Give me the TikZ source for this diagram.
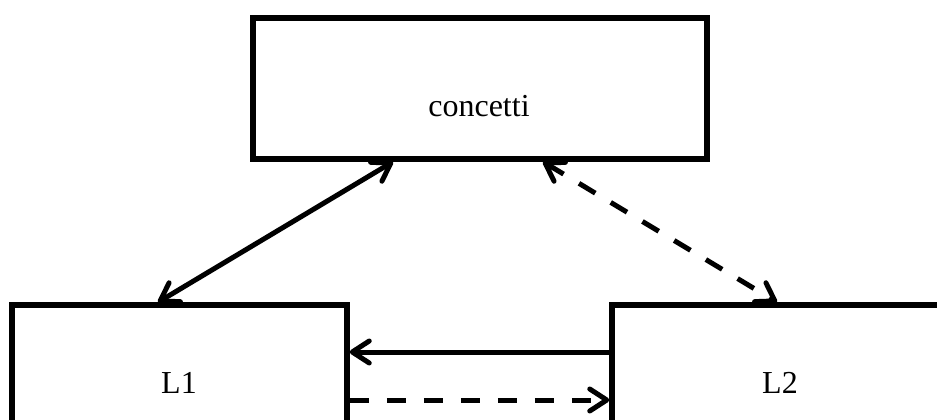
\documentclass[tikz,border=0pt]{standalone}
\usepackage{fontspec}
\setmainfont{Liberation Serif}
\usetikzlibrary{arrows.meta,calc}

\tikzset{
  box/.style={draw, line width=5.5pt, rectangle, outer sep=0pt, inner sep=0pt},
  label/.style={font=\fontsize{32}{38}\selectfont, anchor=base, inner sep=0pt},
  link/.style={line width=5pt, line cap=round,
    arrows={Straight Barb[length=17pt,width=22pt,round]-Straight Barb[length=17pt,width=22pt,round]}},
  oneway/.style={line width=5pt, line cap=round,
    -{Straight Barb[length=17pt,width=22pt,round]}},
  dashline/.style={dash pattern=on 19pt off 18pt, line cap=butt}
}

\begin{document}
\begin{tikzpicture}[x=1pt,y=-1pt]
  \useasboundingbox (0,0) rectangle (937,420);
  \clip (0,0) rectangle (937,420);

  % the three boxes
  \node[box, minimum width=454pt, minimum height=141pt] (top) at (480,88.5) {};
  \node[box, minimum width=335pt, minimum height=154pt] (L1) at (179.5,382) {};
  \node[box, minimum width=336pt, minimum height=154pt] (L2) at (780,382) {};

  % texts
  \node[label] (tconc) at (479,116) {concetti};
  \node[label] (tl1) at (179,393) {L1};
  \node[label] (tl2) at (780,393) {L2};

  % concetti <-> L1, solid
  \draw[link] ($(top.south west)+(140,2.75)$) -- ($(L1.north west)+(146,-2.75)$);
  % concetti <-> L2, dashed
  \draw[link, dashline] ($(top.south west)+(290,2.75)$) -- ($(L2.north west)+(165,-2.75)$);
  % L2 -> L1, solid
  \draw[oneway] ($(L2.north west)+(-2.75,47)$) -- ($(L1.north east)+(2.75,47)$);
  % L1 -> L2, dashed
  \draw[oneway, dashline] ($(L1.north east)+(2.75,95)$) -- ($(L2.north west)+(-2.75,95)$);
\end{tikzpicture}
\end{document}
